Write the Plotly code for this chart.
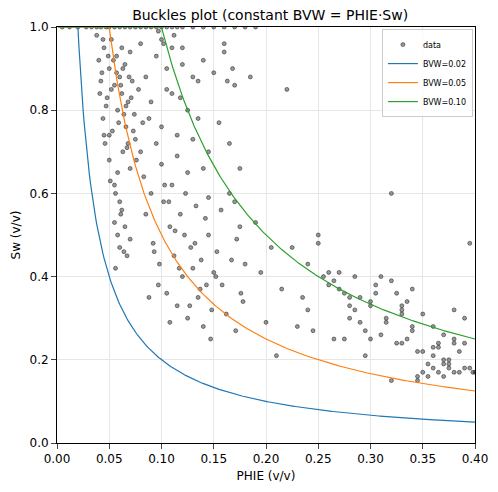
import numpy as np
import plotly.graph_objects as go

# scatter points (PHIE, Sw)
phie = [
    # top band at Sw = 1
    0.005, 0.012, 0.02, 0.028, 0.033, 0.038, 0.042, 0.047, 0.05, 0.055, 0.06, 0.065, 0.07, 0.075, 0.08,
    0.085, 0.09, 0.095, 0.1, 0.105, 0.11, 0.115, 0.12, 0.13, 0.14, 0.15, 0.16, 0.17, 0.18, 0.19,
    # left dense cluster
    0.038, 0.04, 0.042, 0.044, 0.045, 0.046, 0.048, 0.05, 0.05, 0.052, 0.053, 0.055, 0.055, 0.057, 0.058,
    0.06, 0.06, 0.062, 0.063, 0.065, 0.066, 0.068, 0.07, 0.07, 0.072, 0.074, 0.075, 0.078, 0.08, 0.082,
    0.043, 0.047, 0.05, 0.054, 0.058, 0.061, 0.064, 0.067, 0.071, 0.076, 0.041, 0.049, 0.056, 0.069, 0.073,
    0.044, 0.052, 0.059, 0.063, 0.066, 0.045, 0.051, 0.057, 0.062, 0.068,
    0.055, 0.058, 0.06, 0.062, 0.065, 0.067, 0.07, 0.056, 0.061, 0.064,
    # middle spread
    0.08, 0.083, 0.085, 0.088, 0.09, 0.092, 0.095, 0.098, 0.1, 0.102, 0.105, 0.108, 0.11, 0.112, 0.115,
    0.118, 0.12, 0.122, 0.125, 0.128, 0.13, 0.133, 0.135, 0.138, 0.14, 0.143, 0.145, 0.148, 0.15, 0.153,
    0.085, 0.09, 0.095, 0.1, 0.105, 0.11, 0.115, 0.12, 0.125, 0.13, 0.135, 0.14, 0.145, 0.15, 0.155,
    0.088, 0.093, 0.097, 0.103, 0.108, 0.113, 0.117, 0.123, 0.127, 0.132, 0.137, 0.142, 0.147, 0.152, 0.157,
    0.1, 0.105, 0.11, 0.115, 0.12, 0.125, 0.13, 0.135, 0.14, 0.145, 0.097, 0.102, 0.107, 0.112, 0.118,
    0.16, 0.163, 0.165, 0.168, 0.17, 0.172, 0.175, 0.178, 0.18, 0.19, 0.16, 0.165, 0.17, 0.175, 0.185,
    0.158, 0.162, 0.167, 0.171, 0.176, 0.195, 0.2, 0.205, 0.21, 0.22,
    # right cluster
    0.215, 0.225, 0.23, 0.235, 0.24, 0.245, 0.25, 0.255, 0.26, 0.265, 0.27, 0.275, 0.28, 0.285, 0.29,
    0.295, 0.3, 0.305, 0.31, 0.315, 0.32, 0.325, 0.33, 0.335, 0.34, 0.345, 0.35, 0.355, 0.36, 0.365,
    0.37, 0.375, 0.38, 0.385, 0.39, 0.395, 0.4, 0.26, 0.27, 0.28, 0.29, 0.3, 0.31, 0.32, 0.33,
    0.34, 0.35, 0.36, 0.37, 0.38, 0.39, 0.265, 0.275, 0.285, 0.295, 0.305, 0.315, 0.325, 0.335, 0.345,
    0.355, 0.365, 0.375, 0.385, 0.395, 0.28, 0.3, 0.32, 0.34, 0.36, 0.38, 0.24, 0.25, 0.33, 0.37,
    0.35, 0.36, 0.365, 0.37, 0.375, 0.38, 0.39, 0.398, 0.345, 0.33,
]
sw = [
    1.0, 1.0, 1.0, 1.0, 1.0, 1.0, 1.0, 1.0, 1.0, 1.0, 1.0, 1.0, 1.0, 1.0, 1.0,
    1.0, 1.0, 1.0, 1.0, 1.0, 1.0, 1.0, 1.0, 1.0, 1.0, 1.0, 1.0, 1.0, 1.0, 1.0,
    0.98, 0.92, 0.87, 0.78, 0.95, 0.72, 0.83, 0.9, 0.68, 0.97, 0.75, 0.86, 0.62, 0.93, 0.8,
    0.88, 0.58, 0.84, 0.7, 0.91, 0.76, 0.82, 0.94, 0.66, 0.87, 0.79, 0.73, 0.85, 0.96, 0.77,
    0.89, 0.81, 0.74, 0.92, 0.65, 0.86, 0.79, 0.71, 0.83, 0.68, 0.84, 0.93, 0.6, 0.88, 0.75,
    0.97, 0.85, 0.77, 0.9, 0.81, 0.74, 0.63, 0.89, 0.95, 0.72,
    0.53, 0.5, 0.47, 0.56, 0.52, 0.45, 0.49, 0.42, 0.55, 0.46,
    0.7, 0.64, 0.55, 0.78, 0.6, 0.48, 0.72, 0.43, 0.67, 0.58, 0.36, 0.52, 0.62, 0.45, 0.33,
    0.55, 0.4, 0.5, 0.3, 0.47, 0.42, 0.57, 0.35, 0.44, 0.28, 0.38, 0.5, 0.32, 0.41, 0.46,
    0.88, 0.82, 0.93, 0.76, 0.85, 0.95, 0.69, 0.91, 0.8, 0.73, 0.87, 0.66, 0.59, 0.89, 0.77,
    0.35, 0.46, 0.38, 0.62, 0.29, 0.51, 0.42, 0.6, 0.33, 0.48, 0.37, 0.54, 0.25, 0.4, 0.56,
    0.97, 0.9, 0.84, 0.74, 0.95, 0.65, 0.88, 0.78, 0.92, 0.7, 0.99, 0.96, 0.58, 0.98, 0.83,
    0.96, 0.87, 0.72, 0.9, 0.58, 0.49, 0.66, 0.34, 0.43, 0.53, 0.94, 0.6, 0.86, 0.52, 0.88,
    0.38, 0.31, 0.44, 0.27, 0.36, 0.41, 0.29, 0.47, 0.21, 0.85,
    0.37, 0.47, 0.28, 0.35, 0.32, 0.27, 0.48, 0.4, 0.38, 0.25, 0.41, 0.36, 0.3, 0.4, 0.35,
    0.27, 0.33, 0.38, 0.4, 0.3, 0.6, 0.36, 0.33, 0.25, 0.28, 0.22, 0.31, 0.19, 0.23, 0.17,
    0.2, 0.19, 0.17, 0.22, 0.3, 0.18, 0.17, 0.41, 0.37, 0.35, 0.29, 0.34, 0.26, 0.39, 0.31,
    0.37, 0.22, 0.28, 0.19, 0.25, 0.18, 0.39, 0.25, 0.32, 0.21, 0.36, 0.29, 0.24, 0.34, 0.16,
    0.16, 0.24, 0.2, 0.17, 0.48, 0.33, 0.25, 0.15, 0.27, 0.21, 0.24, 0.43, 0.5, 0.32, 0.26,
    0.17, 0.18, 0.23, 0.16, 0.18, 0.32, 0.24, 0.17, 0.15, 0.24,
]

bvw_levels = [0.02, 0.05, 0.10]
bvw_colors = ["#1f77b4", "#ff7f0e", "#2ca02c"]
phie_grid = np.linspace(0.001, 0.4, 400)

fig = go.Figure()
fig.add_trace(go.Scatter(
    x=phie, y=sw, mode="markers", name="data",
    marker=dict(size=4, color="rgba(50,50,50,0.5)",
                line=dict(width=0.8, color="rgba(20,20,20,0.6)")),
))
for bvw, col in zip(bvw_levels, bvw_colors):
    fig.add_trace(go.Scatter(
        x=phie_grid, y=np.clip(bvw / phie_grid, None, 1.0), mode="lines",
        name=f"BVW={bvw:.2f}", line=dict(color=col, width=1.2),
    ))

ax = dict(showline=True, linecolor="black", mirror=True, ticks="outside",
          gridcolor="#e6e6e6", zeroline=False, tickfont=dict(size=12),
          title_font=dict(size=12), automargin=False)
fig.update_xaxes(ax, range=[0, 0.4], dtick=0.05, tickformat=".2f", title_text="PHIE (v/v)",
                 title_standoff=6)
fig.update_yaxes(ax, range=[0, 1.0], dtick=0.2, tickformat=".1f", title_text="Sw (v/v)",
                 title_standoff=6)
fig.update_layout(
    width=490, height=484, plot_bgcolor="white", paper_bgcolor="white",
    margin=dict(l=49, r=23, t=19, b=49, autoexpand=False),
    font=dict(family="DejaVu Sans", color="black"),
    title=dict(text="Buckles plot (constant BVW = PHIE·Sw)", x=0.535, xanchor="center",
               y=0.985, yanchor="middle", font=dict(size=14), automargin=False),
    legend=dict(x=0.995, y=0.995, xanchor="right", yanchor="top", font=dict(size=8),
                bgcolor="rgba(255,255,255,0.8)", bordercolor="#cccccc", borderwidth=1,
                itemwidth=30, tracegroupgap=0),
)
fig.write_html("out.html")
